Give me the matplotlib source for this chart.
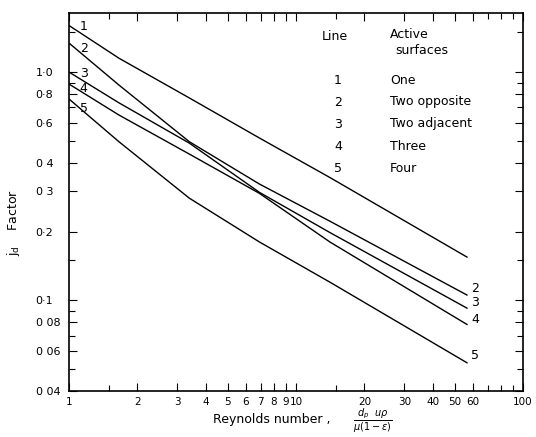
import matplotlib
matplotlib.use("Agg")
import matplotlib.pyplot as plt
from matplotlib.ticker import FixedLocator, NullFormatter

# ---- data ----
reynolds = [1.0, 1.66, 3.39, 6.9, 14.1, 57.0]
line1 = [1.60, 1.15, 0.770, 0.514, 0.345, 0.154]
line2 = [1.34, 0.877, 0.495, 0.323, 0.222, 0.105]
line3 = [1.00, 0.733, 0.488, 0.297, 0.198, 0.092]
line4 = [0.886, 0.648, 0.437, 0.294, 0.180, 0.078]
line5 = [0.762, 0.495, 0.280, 0.180, 0.120, 0.053]

line_ids = ["1", "2", "3", "4", "5"]
surfaces = ["One", "Two opposite", "Two adjacent", "Three", "Four"]

x_ticks = [1, 2, 3, 4, 5, 6, 7, 8, 9, 10, 20, 30, 40, 50, 60, 100]
x_ticklabels = ["1", "2", "3", "4", "5", "6", "7", "8", "9", "10",
                "20", "30", "40", "50", "60", "100"]
y_ticks = [0.04, 0.06, 0.08, 0.1, 0.2, 0.3, 0.4, 0.6, 0.8, 1.0]
y_ticklabels = ["0 04", "0 06", "0 08", "0·1", "0·2", "0 3", "0 4",
                "0·6", "0·8", "1·0"]

plt.rcParams["font.family"] = ["DejaVu Sans"]

fig = plt.figure(figsize=(5.36, 4.37), dpi=100)
ax = fig.add_axes([69 / 536, 1 - 391 / 437, (523 - 69) / 536, (391 - 13) / 437])

series = [line1, line2, line3, line4, line5]
for s in series:
    ax.plot(reynolds, s, color="black", lw=1.0, solid_capstyle="butt")

ax.set_xscale("log")
ax.set_yscale("log")
ax.set_xlim(1, 100)
ax.set_ylim(0.04, 1.815)

ax.xaxis.set_major_locator(FixedLocator(x_ticks))
ax.set_xticklabels(x_ticklabels)
ax.xaxis.set_minor_locator(FixedLocator([1.5, 15, 70, 80, 90]))
ax.xaxis.set_minor_formatter(NullFormatter())
ax.yaxis.set_major_locator(FixedLocator(y_ticks))
ax.set_yticklabels(y_ticklabels)
ax.yaxis.set_minor_locator(FixedLocator([0.05, 0.07, 0.09, 0.15, 0.5, 0.7, 0.9, 1.5]))
ax.yaxis.set_minor_formatter(NullFormatter())

ax.tick_params(axis="both", which="both", direction="in", top=True, right=True,
               width=0.8, color="black")
ax.tick_params(axis="both", which="major", length=6)
ax.tick_params(axis="both", which="minor", length=4)
ax.tick_params(axis="x", which="major", labelsize=7.5, pad=4)
ax.tick_params(axis="y", which="major", labelsize=8, pad=24)
for lab in ax.get_yticklabels():
    lab.set_horizontalalignment("left")
for sp in ax.spines.values():
    sp.set_linewidth(1.2)

# start labels
start_lab_y = [1.59, 1.27, 0.99, 0.85, 0.695]
for lid, yy in zip(line_ids, start_lab_y):
    ax.text(1.16, yy, lid, fontsize=9, ha="center", va="center")

# end labels
end_lab_y = [0.112, 0.098, 0.082, 0.057]
for lid, yy in zip(line_ids[1:], end_lab_y):
    ax.text(61.5, yy, lid, fontsize=9, ha="center", va="center")

# table legend
fig.text(335 / 536, 1 - 36 / 437, "Line", fontsize=9, ha="center", va="center")
fig.text(390 / 536, 1 - 34 / 437, "Active", fontsize=9, ha="left", va="center")
fig.text(395 / 536, 1 - 50 / 437, "surfaces", fontsize=9, ha="left", va="center")
rows_y = [81, 102, 124, 146, 168]
for lid, desc, ry in zip(line_ids, surfaces, rows_y):
    fig.text(338 / 536, 1 - ry / 437, lid, fontsize=9, ha="center", va="center")
    fig.text(390 / 536, 1 - ry / 437, desc, fontsize=9, ha="left", va="center")

# axis labels
fig.text(272 / 536, 1 - 420 / 437, "Reynolds number ,", fontsize=9,
         ha="center", va="center")
fig.text(373 / 536, 1 - 421 / 437, r"$\dfrac{d_p\ \ u\rho}{\mu(1-\epsilon)}$",
         fontsize=7, ha="center", va="center")
fig.text(13 / 536, 1 - 222 / 437, r"$\mathregular{j_d}$    Factor", fontsize=9,
         rotation=90, ha="center", va="center")

fig.savefig("out.png", dpi=100)
